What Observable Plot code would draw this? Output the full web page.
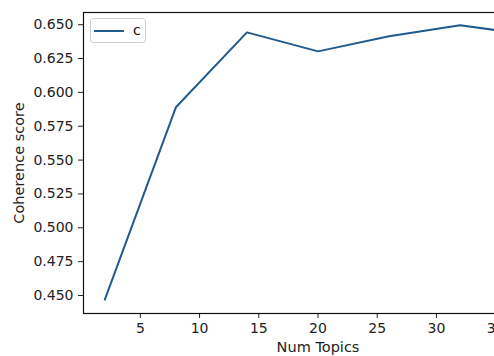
<!DOCTYPE html>
<html>
<head>
<meta charset="utf-8">
<script src="https://cdn.jsdelivr.net/npm/d3@7"></script>
<script src="https://cdn.jsdelivr.net/npm/@observablehq/plot@0.6"></script>
<style>
  html, body { margin: 0; padding: 0; background: #fff; overflow: hidden; }
  #wrap { position: relative; width: 494px; height: 356px; overflow: hidden; background: #fff; }
  #chart svg { display: block; max-width: none !important; width: 600px !important; height: 356px !important; }
  #chart svg text { font-family: "DejaVu Sans", sans-serif; font-size: 14px; }
  #chart svg g[aria-label$="axis label"] text { font-size: 14.5px; }
  #legend {
    position: absolute; left: 90px; top: 18px; width: 56px; height: 25px;
    border: 1px solid #d0d0d0; border-radius: 3px; background: #fff;
    font-family: "DejaVu Sans", sans-serif; font-size: 14px; color: #111;
    box-sizing: border-box;
  }
  #legend .swatch { position: absolute; left: 3px; top: 11px; width: 30px; height: 2px; background: #215a8c; }
  #legend .lab { position: absolute; left: 42px; top: 3px; line-height: 16px; }
</style>
</head>
<body>
<div id="wrap">
  <div id="chart"></div>
  <div id="legend"><div class="swatch"></div><div class="lab">c</div></div>
</div>
<script>
const numTopics = [2, 8, 14, 20, 26, 32, 38];
const coherence = [0.447, 0.589, 0.6443, 0.6303, 0.6415, 0.6495, 0.6425];
const xTicks = [5, 10, 15, 20, 25, 30, 35];
const yTicks = [0.450, 0.475, 0.500, 0.525, 0.550, 0.575, 0.600, 0.625, 0.650];

const data = numTopics.map((n, i) => ({n, c: coherence[i]}));

const chart = Plot.plot({
  width: 600,
  height: 356,
  marginLeft: 83,
  marginRight: 48,
  marginTop: 12,
  marginBottom: 43,
  style: {fontFamily: "DejaVu Sans, sans-serif", fontSize: "14px", color: "#222", background: "#fff"},
  x: {domain: [0.2, 39.8], ticks: xTicks, tickSize: 5, tickPadding: 5, label: "Num Topics", labelArrow: "none", labelAnchor: "center", labelOffset: 38, tickFormat: d => String(d)},
  y: {domain: [0.4367, 0.659], ticks: yTicks, tickSize: 5, tickPadding: 5, tickFormat: d3.format(".3f"), label: "Coherence score", labelArrow: "none", labelAnchor: "center", labelOffset: 70},
  marks: [
    Plot.frame({stroke: "#111", strokeWidth: 1.2}),
    Plot.line(data, {x: "n", y: "c", stroke: "#215a8c", strokeWidth: 2})
  ]
});
document.getElementById("chart").appendChild(chart);
</script>
</body>
</html>
